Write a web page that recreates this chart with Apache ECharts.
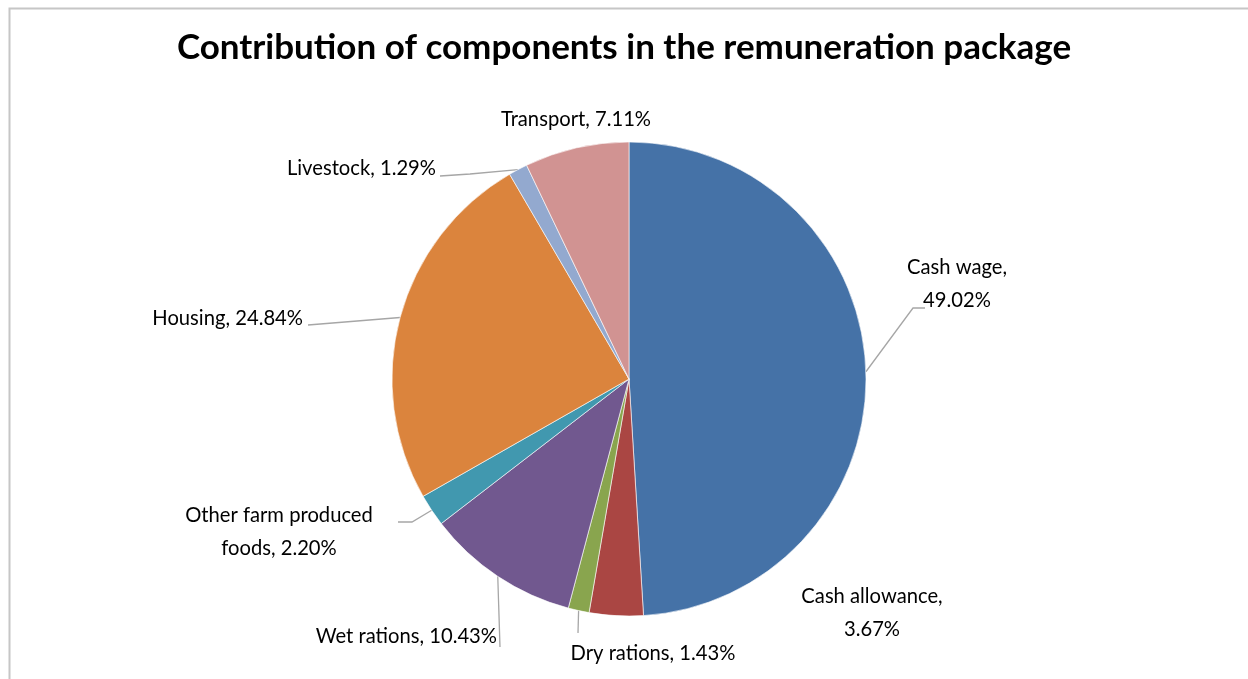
<!DOCTYPE html>
<html>
<head>
<meta charset="utf-8">
<script src="https://cdn.jsdelivr.net/npm/echarts@6/dist/echarts.min.js"></script>
<style>
html,body{margin:0;padding:0;background:#fff;}
#chart{width:1248px;height:679px;}
</style>
</head>
<body>
<div id="chart"></div>
<script>
// ---- data ----
const categories = ["Cash wage", "Cash allowance", "Dry rations", "Wet rations",
  "Other farm produced foods", "Housing", "Livestock", "Transport"];
const shares = [49.02, 3.67, 1.43, 10.43, 2.20, 24.84, 1.29, 7.11];
const colors = ["#4572A7", "#AA4643", "#89A54E", "#71588F", "#4198AF", "#DB843D", "#93A9CF", "#D19392"];

// ---- label placement (styling only) ----
const labelPlace = [
  {x: 957, y: 284, align: 'center', v: 'middle', line: [[913, 308], [925, 308]], text: 'Cash wage,\n{p}'},
  {x: 872, y: 613, align: 'center', v: 'middle', line: null, text: 'Cash allowance,\n{p}'},
  {x: 653, y: 653, align: 'center', v: 'middle', line: [[578, 633]], text: 'Dry rations, {p}'},
  {x: 497, y: 636, align: 'right', v: 'middle', line: [[500, 647]], text: 'Wet rations, {p}'},
  {x: 279, y: 532, align: 'center', v: 'middle', line: [[412, 522], [398, 522]], text: 'Other farm produced\nfoods, {p}'},
  {x: 303, y: 318, align: 'right', v: 'middle', line: [[308, 325]], text: 'Housing, {p}'},
  {x: 436, y: 168, align: 'right', v: 'middle', line: [[470, 174], [440, 176]], text: 'Livestock, {p}'},
  {x: 576, y: 119, align: 'center', v: 'middle', line: null, text: 'Transport, {p}'}
];

const chart = echarts.init(document.getElementById('chart'), null, {renderer: 'canvas'});
const FONT = 'Lato';

chart.setOption({
  animation: false,
  backgroundColor: '#ffffff',
  graphic: [{
    type: 'rect', left: 7, top: 6, z: -1,
    shape: {width: 1400, height: 800},
    style: {fill: 'none', stroke: '#C6C6C6', lineWidth: 2}
  }],
  title: {
    text: 'Contribution of components in the remuneration package',
    left: 'center', top: 25,
    textStyle: {fontFamily: FONT, fontWeight: 'bold', fontSize: 35, color: '#000'}
  },
  series: [{
    type: 'pie',
    center: [629, 379],
    radius: [0, 237],
    startAngle: 90,
    clockwise: true,
    avoidLabelOverlap: false,
    itemStyle: {borderColor: '#ffffff', borderWidth: 0.6},
    data: categories.map((c, i) => ({name: c, value: shares[i], itemStyle: {color: colors[i]}})),
    label: {
      show: true,
      fontFamily: FONT, fontSize: 20.2, color: '#000', lineHeight: 33,
      formatter: (p) => labelPlace[p.dataIndex].text.replace('{p}', shares[p.dataIndex].toFixed(2) + '%')
    },
    labelLine: {show: true, lineStyle: {color: '#A6A6A6', width: 1.3}},
    labelLayout: (params) => {
      const lp = labelPlace[params.dataIndex];
      const out = {x: lp.x, y: lp.y, align: lp.align, verticalAlign: lp.v};
      if (lp.line && params.labelLinePoints) {
        out.labelLinePoints = [params.labelLinePoints[0]].concat(lp.line);
      } else {
        out.labelLinePoints = [[0, 0], [0, 0]];
      }
      return out;
    }
  }]
});
</script>
</body>
</html>
